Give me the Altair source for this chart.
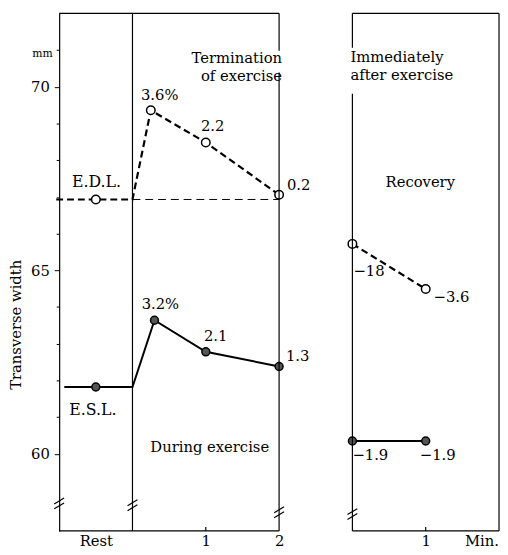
import altair as alt
import pandas as pd

FONT = "DejaVu Serif"

# x coordinate: rest panel spans -1..0, exercise minutes 0..2, recovery minutes start at 3
REST_X = -0.5
REC_OFFSET = 3

# E.D.L. (mm)
edl_rest = 66.93
edl_ex_min = [0, 0.25, 1, 2]
edl_ex = [66.93, 69.36, 68.48, 67.06]
edl_ex_labels = ["", "3.6%", "2.2", "0.2"]
rec_min = [0, 1]
edl_rec = [65.72, 64.49]
edl_rec_labels = ["\u221218", "\u22123.6"]

# E.S.L. (mm)
esl_rest = 61.82
esl_ex_min = [0, 0.3, 1, 2]
esl_ex = [61.82, 63.64, 62.78, 62.38]
esl_ex_labels = ["", "3.2%", "2.1", "1.3"]
esl_rec = [60.35, 60.35]
esl_rec_labels = ["\u22121.9", "\u22121.9"]

x_tick_vals = [-0.5, 1, 2, 4, 4.76]
y_tick_vals = list(range(60, 72))

W, H = 447, 526
XD = [-1, 5]
YD = [57.9, 72.0]
PX_X = W / (XD[1] - XD[0])
PX_Y = H / (YD[1] - YD[0])

xenc = alt.X(
    "x:Q",
    scale=alt.Scale(domain=XD, nice=False, zero=False),
    axis=alt.Axis(
        values=x_tick_vals,
        labelExpr="datum.value < 0 ? 'Rest' : (datum.value > 4.5 ? 'Min.' : (datum.value > 3 ? '1' : datum.label))",
        ticks=False, domain=False, grid=False,
        labelFont=FONT, labelFontSize=15, labelColor="black",
        labelPadding=3, labelOverlap=False, labelFlush=False, title=None,
    ),
)
yenc = alt.Y(
    "y:Q",
    scale=alt.Scale(domain=YD, nice=False, zero=False),
    axis=alt.Axis(
        values=y_tick_vals,
        labelExpr="datum.value % 5 === 0 ? datum.label : ''",
        tickSize={"condition": {"test": "datum.value % 5 === 0", "value": 5}, "value": 3},
        tickColor="black", domainColor="black", domainWidth=1.2, grid=False,
        labelFont=FONT, labelFontSize=15, labelColor="black", labelPadding=5,
        title="Transverse width", titleFont=FONT, titleFontSize=15,
        titleFontWeight="normal", titleColor="black",
        titleX=-44, titleY=316, titleAngle=270, titleAlign="center",
        titleBaseline="middle",
    ),
)


def df(xs, ys):
    return pd.DataFrame({"x": xs, "y": ys})


layers = []

# thin reference line at resting E.D.L. during exercise
layers.append(
    alt.Chart(df([0, 2], [edl_rest, edl_rest]))
    .mark_line(color="black", strokeWidth=1, strokeDash=[8, 5])
    .encode(x=xenc, y=yenc)
)
# E.D.L. rest + exercise (dashed bold)
layers.append(
    alt.Chart(df([-1.04] + edl_ex_min, [edl_rest] + edl_ex))
    .mark_line(color="black", strokeWidth=2.2, strokeDash=[7, 4])
    .encode(x=xenc, y=yenc)
)
layers.append(
    alt.Chart(df([REC_OFFSET + m for m in rec_min], edl_rec))
    .mark_line(color="black", strokeWidth=2.2, strokeDash=[7, 4])
    .encode(x=xenc, y=yenc)
)
# E.S.L. rest + exercise (solid)
layers.append(
    alt.Chart(df([-0.93] + esl_ex_min, [esl_rest] + esl_ex))
    .mark_line(color="black", strokeWidth=2)
    .encode(x=xenc, y=yenc)
)
layers.append(
    alt.Chart(df([REC_OFFSET + m for m in rec_min], esl_rec))
    .mark_line(color="black", strokeWidth=2)
    .encode(x=xenc, y=yenc)
)

# points
edl_pts = df([REST_X] + edl_ex_min[1:] + [REC_OFFSET + m for m in rec_min],
             [edl_rest] + edl_ex[1:] + edl_rec)
esl_pts = df([REST_X] + esl_ex_min[1:] + [REC_OFFSET + m for m in rec_min],
             [esl_rest] + esl_ex[1:] + esl_rec)
layers.append(
    alt.Chart(edl_pts)
    .mark_point(shape="circle", filled=True, fill="white", stroke="black",
                strokeWidth=1.5, size=75, opacity=1)
    .encode(x=xenc, y=yenc)
)
layers.append(
    alt.Chart(esl_pts)
    .mark_point(shape="circle", filled=True, fill="#555", stroke="black",
                strokeWidth=1.5, size=65, opacity=1)
    .encode(x=xenc, y=yenc)
)


def txt(text, x, y, dx=0, dy=0, align="center", size=15, baseline="middle", lh=None):
    kw = dict(text=text, font=FONT, fontSize=size, color="black", align=align,
              baseline=baseline, dx=dx, dy=dy)
    if lh is not None:
        kw["lineHeight"] = lh
    return alt.Chart(df([x], [y])).mark_text(**kw).encode(x=xenc, y=yenc)


# value labels (offsets in px from the point)
edl_off = [None, (9, -15, "center"), (7, -17, "center"), (8, -10, "left")]
esl_off = [None, (6, -16, "center"), (10, -16, "center"), (7, -11, "left")]
for m, v, lab, off in zip(edl_ex_min, edl_ex, edl_ex_labels, edl_off):
    if lab:
        layers.append(txt(lab, m, v, off[0], off[1], off[2]))
for m, v, lab, off in zip(esl_ex_min, esl_ex, esl_ex_labels, esl_off):
    if lab:
        layers.append(txt(lab, m, v, off[0], off[1], off[2]))
for m, v, lab, off in zip(rec_min, edl_rec, edl_rec_labels, [(1, 28), (8, 8)]):
    layers.append(txt(lab, REC_OFFSET + m, v, off[0], off[1], "left"))
for m, v, lab, off in zip(rec_min, esl_rec, esl_rec_labels, [(0, 14), (-6, 14)]):
    layers.append(txt(lab, REC_OFFSET + m, v, off[0], off[1], "left"))

# annotations
layers.append(txt("mm", -1.228, 70.88, size=11))
layers.append(txt("E.D.L.", REST_X + 0.01, 67.40, size=16))
layers.append(txt("E.S.L.", REST_X - 0.04, 61.19, size=16))
layers.append(txt(["Termination", "of exercise"], 2.04, 70.98, align="right", baseline="top", lh=19))
layers.append(txt(["Immediately", "after exercise"], 2.973, 71.01, align="left", baseline="top", lh=19))
layers.append(txt("Recovery", 3.926, 67.40))
layers.append(txt("During exercise", 1.054, 60.18))

# frame segments
seg = pd.DataFrame(
    [
        # top / bottom borders
        (-1, 2, YD[1], YD[1]), (3, 5, YD[1], YD[1]),
        (-1, 2, YD[0], YD[0]), (3, 5, YD[0], YD[0]),
        # panel verticals
        (0, 0, YD[0], YD[1]),
        (2, 2, YD[1], 70.98), (2, 2, 70.39, YD[0]),
        (3, 3, YD[1], 71.06), (3, 3, 69.81, YD[0]),
        (5, 5, YD[0], YD[1]),
        # inward ticks at 1 min
        (1, 1, YD[0], YD[0] + 4 / PX_Y), (4, 4, YD[0], YD[0] + 4 / PX_Y),
    ],
    columns=["x", "x2", "y", "y2"],
)
layers.append(
    alt.Chart(seg).mark_rule(color="black", strokeWidth=1.2)
    .encode(x=xenc, x2="x2:Q", y=yenc, y2="y2:Q")
)

# axis break marks "//"
breaks = [(-1, 58.65), (0, 58.60), (2, 58.41), (3, 58.36)]
rows = []
for bx, by in breaks:
    for off in (-2.5, 2.5):
        rows.append((bx - 5 / PX_X, bx + 5 / PX_X,
                     by - (3 + off) / PX_Y, by + (3 - off) / PX_Y))
brk = pd.DataFrame(rows, columns=["x", "x2", "y", "y2"])
layers.append(
    alt.Chart(brk).mark_rule(color="black", strokeWidth=1.2)
    .encode(x=xenc, x2="x2:Q", y=yenc, y2="y2:Q")
)

chart = (
    alt.layer(*layers)
    .properties(
        width=W, height=H,
        autosize=alt.AutoSizeParams(type="none"),
        padding={"left": 52, "top": 1, "right": 1, "bottom": 20},
        background="white",
    )
    .configure_view(stroke=None)
)

chart.save("out.html", embed_options={"renderer": "svg", "actions": False})
